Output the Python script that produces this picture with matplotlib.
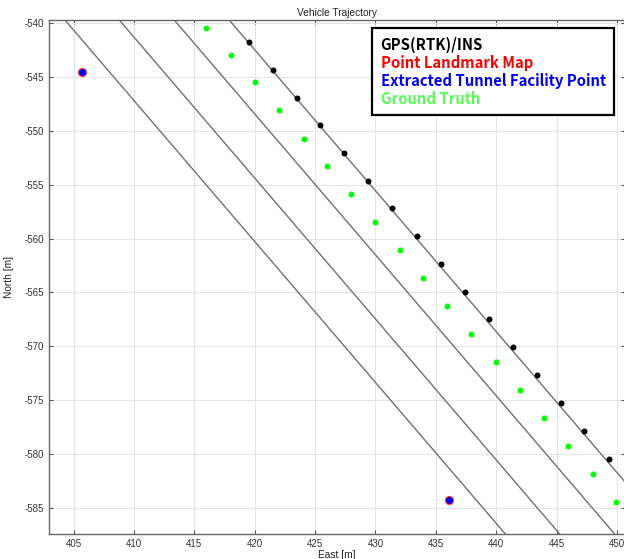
import numpy as np
import matplotlib.pyplot as plt

plt.rcParams['font.family'] = ['Liberation Sans', 'DejaVu Sans']
plt.rcParams['axes.unicode_minus'] = False

# GPS(RTK)/INS trajectory (East, North) [m]
gps_east = [419.5, 421.5, 423.5, 425.4, 427.4, 429.4, 431.4, 433.4,
            435.4, 437.4, 439.4, 441.4, 443.4, 445.4, 447.3, 449.3]
gps_north = [-541.7, -544.3, -546.9, -549.5, -552.1, -554.7, -557.2, -559.8,
             -562.4, -565.0, -567.5, -570.1, -572.7, -575.3, -577.9, -580.5]

# Ground truth trajectory
gt_east = [416.0, 418.0, 420.05, 422.0, 424.05, 426.0, 428.0, 430.0, 432.05,
           433.95, 435.95, 437.95, 439.95, 441.95, 443.95, 445.95, 448.0, 449.9]
gt_north = [-540.4, -542.95, -545.5, -548.1, -550.75, -553.3, -555.9, -558.5, -561.1,
            -563.65, -566.3, -568.9, -571.5, -574.1, -576.7, -579.3, -581.9, -584.45]

# Point landmark map / extracted tunnel facility points
landmark_east = [405.7, 436.1]
landmark_north = [-544.5, -584.3]
facility_east = [405.7, 436.1]
facility_north = [-544.5, -584.3]

# Lane boundary lines, given by their end points
lane_north_ends = [-535.0, -590.0]
lane_east_top = [400.7, 405.2, 409.75, 414.3]
lane_east_bottom = [442.7, 447.2, 451.75, 456.3]

fig = plt.figure(figsize=(6.24, 5.59), dpi=100)
ax = fig.add_axes([49 / 624, 25 / 559, 576 / 624, 514 / 559])

for x0, x1 in zip(lane_east_top, lane_east_bottom):
    ax.plot([x0, x1], lane_north_ends, color='#707070', lw=1.0, zorder=2)

ax.plot(gps_east, gps_north, 'o', color='black', ms=4.3, mec='none', zorder=3)
ax.plot(gt_east, gt_north, 'o', color='#00ff00', ms=4.3, mec='none', zorder=3)
ax.plot(landmark_east, landmark_north, 'o', color='#ff3030', ms=6.6, mec='none', zorder=4)
ax.plot(facility_east, facility_north, 'o', color='#0000ff', ms=5.0, mec='none', zorder=5)

ax.set_xlim(402.97, 450.66)
ax.set_ylim(-587.45, -539.7)
ax.set_xticks(np.arange(405, 451, 5))
ax.set_yticks(np.arange(-585, -539, 5))

ax.grid(True, color='#e4e4e4', lw=0.7)
ax.set_axisbelow(True)
ax.tick_params(direction='in', length=3, width=0.8, top=True, right=True,
               labelsize=7, colors='#555555', labelcolor='#333333')
for sp in ax.spines.values():
    sp.set_color('#666666')
    sp.set_linewidth(1.0)

ax.set_title('Vehicle Trajectory', fontsize=7.3, color='#222222', pad=3)
ax.set_xlabel('East [m]', fontsize=7.3, color='#222222', labelpad=1)
ax.set_ylabel('North [m]', fontsize=7.3, color='#222222', labelpad=8)

# Legend drawn as a text box with coloured entries
names = ['GPS(RTK)/INS', 'Point Landmark Map', 'Extracted Tunnel Facility Point', 'Ground Truth']
colors = ['black', '#ff0000', '#0000ff', '#55ff55']
handles = [plt.Line2D([], [], ls='none') for _ in names]
leg = ax.legend(handles, names, loc='upper left', bbox_to_anchor=(0.5615, 0.984),
                borderaxespad=0, handlelength=0, handletextpad=0, borderpad=0.55,
                labelspacing=0.14, fancybox=False, framealpha=1, edgecolor='black',
                prop={'family': 'Noto Sans CJK KR', 'weight': 'bold', 'size': 10.7})
leg.get_frame().set_linewidth(1.6)
for txt, c in zip(leg.get_texts(), colors):
    txt.set_color(c)

plt.savefig('out.png', dpi=100)
